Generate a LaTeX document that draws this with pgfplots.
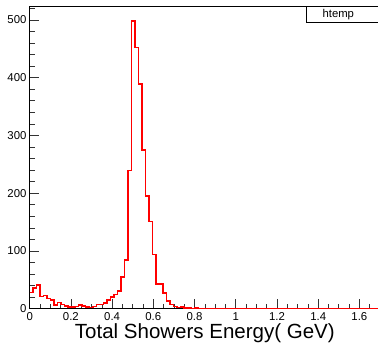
\documentclass[border=0pt]{standalone}
\usepackage{pgfplots}
\pgfplotsset{compat=1.18}
\usepackage{fontspec}
\setmainfont{Liberation Sans}
\begin{document}
\begin{tikzpicture}
\useasboundingbox (0pt,0pt) rectangle (378pt,345pt);
\begin{axis}[
  at={(29.7pt,36.3pt)}, anchor=south west,
  scale only axis, width=350.3pt, height=302.7pt,
  xmin=0, xmax=1.7, ymin=0, ymax=524,
  axis line style={line width=0.7pt, black},
  xtick={0,0.2,0.4,0.6,0.8,1,1.2,1.4,1.6},
  minor xtick={0.05,0.1,0.15,0.25,0.3,0.35,0.45,0.5,0.55,0.65,0.7,0.75,0.85,0.9,0.95,1.05,1.1,1.15,1.25,1.3,1.35,1.45,1.5,1.55,1.65},
  ytick={0,100,200,300,400,500},
  minor ytick={20,40,60,80,120,140,160,180,220,240,260,280,320,340,360,380,420,440,460,480,520},
  xtick pos=left, ytick pos=left,
  tick align=inside,
  major tick length=9.5pt, minor tick length=5pt,
  tick style={line width=0.6pt, black!80},
  /pgf/number format/assume math mode=true,
  /pgf/number format/fixed,
  /pgf/number format/precision=2,
  ticklabel style={font=\fontsize{11.4}{13}\selectfont, inner sep=0pt},
  yticklabel style={anchor=east, xshift=-3pt},
  xticklabel style={anchor=north, yshift=-3.8pt},
  xlabel={Total Showers Energy( GeV)},
  xlabel style={font=\fontsize{20.5}{24}\selectfont, at={(rel axis cs:0.5,0)}, anchor=base, yshift=-30pt, inner sep=0pt},
  clip=true,
]
\addplot[const plot, red, line width=1.5pt] coordinates {
(0,28) (0.017,36) (0.034,41) (0.051,21) (0.068,23) (0.085,18) (0.102,15) (0.119,6)
(0.136,11) (0.153,7) (0.17,5) (0.187,3) (0.204,3) (0.221,4) (0.238,6) (0.255,5)
(0.272,3) (0.289,2) (0.306,4) (0.323,7) (0.34,7) (0.357,10) (0.374,15) (0.391,20)
(0.408,25) (0.425,31) (0.442,55) (0.459,84) (0.476,239) (0.493,498) (0.51,452) (0.527,389)
(0.544,275) (0.561,195) (0.578,151) (0.595,94) (0.612,43) (0.629,43) (0.646,27) (0.663,13)
(0.68,7) (0.697,4) (0.714,2) (0.731,3) (0.748,1) (0.765,1) (0.782,0) (0.799,1)
(0.816,0) (1.7,0)
};
\end{axis}
\draw[fill=white, line width=0.7pt] (306pt,339pt) rectangle (392pt,322.3pt);
\node[anchor=base, inner sep=0pt, font=\fontsize{11.3}{13}\selectfont] at (338.3pt,327.7pt) {htemp};
\end{tikzpicture}
\end{document}
